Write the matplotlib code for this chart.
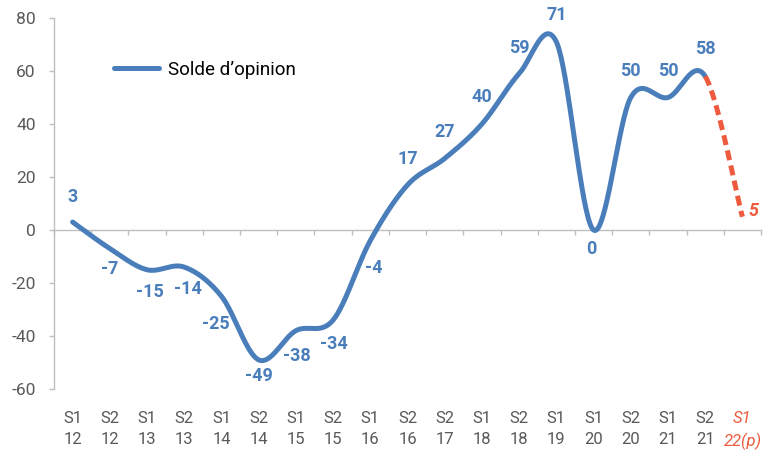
import numpy as np
import matplotlib
matplotlib.use("Agg")
import matplotlib.pyplot as plt
from matplotlib import transforms

# ---- data ----
semesters = ["S1", "S2", "S1", "S2", "S1", "S2", "S1", "S2", "S1", "S2",
             "S2", "S1", "S2", "S1", "S1", "S2", "S1", "S2", "S1"]
years = ["12", "12", "13", "13", "14", "14", "15", "15", "16", "16",
         "17", "18", "18", "19", "20", "20", "21", "21", "22(p)"]
values = [3, -7, -15, -14, -25, -49, -38, -34, -4, 17,
          27, 40, 59, 71, 0, 50, 50, 58, 5]
series_name = "Solde d\u2019opinion"
yticks = [-60, -40, -20, 0, 20, 40, 60, 80]

# label offsets from their point, in pixels (layout only)
label_dx = [0, 0, 3, 4, -6, 0, 1, 1, 3, 0, 0, 0, 0, 0, -2, 0, 0, 0, 11]
label_dy = [25, -20, -22, -22, -28, -16, -25, -24, -27, 26,
            26, 27, 26, 27, -19, 27, 27, 27, 6]

BLUE = "#4A7EBB"
RED = "#EE5A3E"
GRAY_TXT = "#595959"
GRAY_AX = "#BFBFBF"

plt.rcParams["font.family"] = ["Roboto", "DejaVu Sans"]

fig = plt.figure(figsize=(7.74, 4.5), dpi=100)
ax = fig.add_axes([54 / 774, 1 - 389 / 450, 707 / 774, 371 / 450])

x = np.arange(len(values), dtype=float)
y = np.array(values, dtype=float)


def bezier_smooth(xs, ys, n=40):
    """Excel-like smoothed line: cubic Bezier with Catmull-Rom control points."""
    px = np.concatenate([[xs[0]], xs, [xs[-1]]])
    py = np.concatenate([[ys[0]], ys, [ys[-1]]])
    segs = []
    for i in range(len(xs) - 1):
        p0 = np.array([px[i + 1], py[i + 1]])
        p3 = np.array([px[i + 2], py[i + 2]])
        c1 = p0 + (np.array([px[i + 2], py[i + 2]]) - np.array([px[i], py[i]])) / 6
        c2 = p3 - (np.array([px[i + 3], py[i + 3]]) - np.array([px[i + 1], py[i + 1]])) / 6
        t = np.linspace(0, 1, n)[:, None]
        pts = ((1 - t) ** 3) * p0 + 3 * ((1 - t) ** 2) * t * c1 + 3 * (1 - t) * t ** 2 * c2 + t ** 3 * p3
        segs.append(pts)
    return segs


segs = bezier_smooth(x, y)
blue_pts = np.vstack(segs[:-1])
red_pts = segs[-1]

ax.plot(blue_pts[:, 0], blue_pts[:, 1], color=BLUE, lw=3.6,
        solid_capstyle="round", solid_joinstyle="round", label=series_name, zorder=3)
red_line, = ax.plot(red_pts[:, 0], red_pts[:, 1], color=RED, lw=3.6,
                    dash_capstyle="butt", zorder=3)
red_line.set_dashes([2.0, 1.1])

# data labels
n = len(values)
for i, (xi, v) in enumerate(zip(x, values)):
    last = i == n - 1
    ax.annotate(str(v), (xi, v), xytext=(label_dx[i], label_dy[i]),
                textcoords="offset pixels", ha="center", va="center",
                color=RED if last else BLUE, fontsize=13, fontweight="bold",
                fontstyle="italic" if last else "normal", zorder=4)

# axes styling
ax.set_xlim(-0.5, n - 0.5)
ax.set_ylim(-60, 80)
ax.set_yticks(yticks)
ax.set_yticklabels([str(t) for t in yticks])
for s in ["top", "right"]:
    ax.spines[s].set_visible(False)
ax.spines["left"].set_color(GRAY_AX)
ax.spines["left"].set_linewidth(1.0)
ax.spines["bottom"].set_position(("data", 0))
ax.spines["bottom"].set_color(GRAY_AX)
ax.spines["bottom"].set_linewidth(1.0)
ax.tick_params(axis="y", direction="out", length=3.6, width=1, color=GRAY_AX,
               labelcolor=GRAY_TXT, labelsize=12.5, pad=9.5)
ax.set_xticks(np.arange(0, n + 1) - 0.5)
ax.tick_params(axis="x", direction="out", length=3.6, width=1, color=GRAY_AX,
               labelbottom=False)

# category labels below the plot
trans = transforms.blended_transform_factory(ax.transData, ax.transAxes)
for i, (s, yr) in enumerate(zip(semesters, years)):
    last = i == n - 1
    ax.text(i, -0.058, s + "\n" + yr, transform=trans, ha="center", va="top",
            fontsize=12, color=RED if last else GRAY_TXT,
            fontstyle="italic" if last else "normal", linespacing=1.55)

leg = ax.legend(loc="center left", bbox_to_anchor=(0.085, 0.86), frameon=False,
                fontsize=13.5, handlelength=2.4, handletextpad=0.5,
                borderpad=0, borderaxespad=0)
for t in leg.get_texts():
    t.set_color("black")

fig.savefig("out.png", dpi=100)
